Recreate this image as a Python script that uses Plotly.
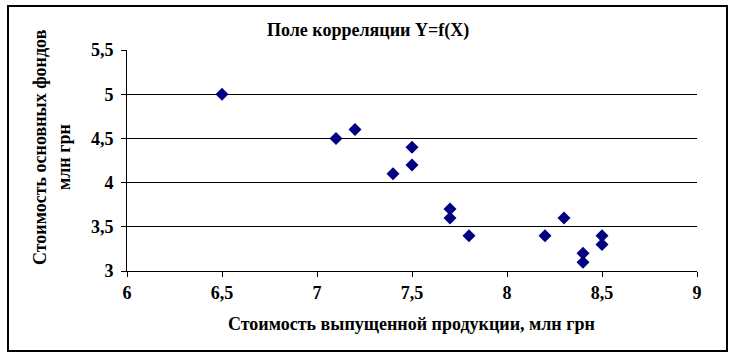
import plotly.graph_objects as go

x_values = [6.5, 7.1, 7.2, 7.4, 7.5, 7.5, 7.7, 7.7, 7.8, 8.2, 8.3, 8.4, 8.4, 8.5, 8.5]
y_values = [5.0, 4.5, 4.6, 4.1, 4.4, 4.2, 3.7, 3.6, 3.4, 3.4, 3.6, 3.2, 3.1, 3.4, 3.3]
x_ticks = [6, 6.5, 7, 7.5, 8, 8.5, 9]
x_tick_labels = ["6", "6,5", "7", "7,5", "8", "8,5", "9"]
y_ticks = [3, 3.5, 4, 4.5, 5, 5.5]
y_tick_labels = ["3", "3,5", "4", "4,5", "5", "5,5"]

title_text = "Поле корреляции Y=f(X)"
x_title = "Стоимость выпущенной продукции, млн грн"
y_title_1 = "Стоимость основных фондов"
y_title_2 = "млн грн"

FONT = "'Liberation Serif', 'Times New Roman', serif"

fig = go.Figure()
fig.add_trace(go.Scatter(
    x=x_values, y=y_values, mode="markers",
    marker=dict(symbol="diamond", size=10, color="#000080",
                line=dict(width=0)),
    showlegend=False, cliponaxis=False,
))

fig.update_layout(
    width=736, height=359,
    margin=dict(l=127, r=39, t=50, b=88, autoexpand=False),
    paper_bgcolor="white", plot_bgcolor="white",
    font=dict(family=FONT, color="black"),
    xaxis=dict(
        range=[6, 9], tickvals=x_ticks,
        ticktext=["<b>" + t + "</b>" for t in x_tick_labels],
        showgrid=False, zeroline=False,
        showline=True, linecolor="black", linewidth=1,
        ticks="outside", ticklen=5, tickcolor="black",
        tickfont=dict(family=FONT, size=18, color="black", weight=700),
    ),
    yaxis=dict(
        range=[3, 5.5], tickvals=y_ticks,
        ticktext=["<b>" + t + "</b>" for t in y_tick_labels],
        showgrid=True, gridcolor="black", gridwidth=1, zeroline=False,
        showline=True, linecolor="black", linewidth=1,
        ticks="outside", ticklen=5, tickcolor="black",
        tickfont=dict(family=FONT, size=18, color="black", weight=700),
        ticklabelstandoff=4,
    ),
    shapes=[dict(type="rect", xref="paper", yref="paper",
                 x0=-119/570, x1=(727-127)/570, y0=-(351-271)/221, y1=(271-6)/221,
                 line=dict(color="black", width=2), fillcolor="rgba(0,0,0,0)",
                 layer="below")],
    annotations=[
        dict(text="<b>" + title_text + "</b>", x=(368-127)/570, y=(271-30)/221,
             xref="paper", yref="paper", showarrow=False,
             font=dict(family=FONT, size=18, color="black"),
             xanchor="center", yanchor="middle"),
        dict(text="<b>" + x_title + "</b>", x=(411-127)/570, y=-(324-271)/221,
             xref="paper", yref="paper", showarrow=False,
             font=dict(family=FONT, size=18, color="black"),
             xanchor="center", yanchor="middle"),
        dict(text="<b>" + y_title_1 + "</b>", x=-(127-40)/570, y=(271-147)/221,
             xref="paper", yref="paper", showarrow=False, textangle=-90,
             font=dict(family=FONT, size=18, color="black"),
             xanchor="center", yanchor="middle"),
        dict(text="<b>" + y_title_2 + "</b>", x=-(127-64)/570, y=(271-157)/221,
             xref="paper", yref="paper", showarrow=False, textangle=-90,
             font=dict(family=FONT, size=18, color="black"),
             xanchor="center", yanchor="middle"),
    ],
)

fig.write_html("out.html", config={"displayModeBar": False},
               post_script="document.body.style.margin='0';")
